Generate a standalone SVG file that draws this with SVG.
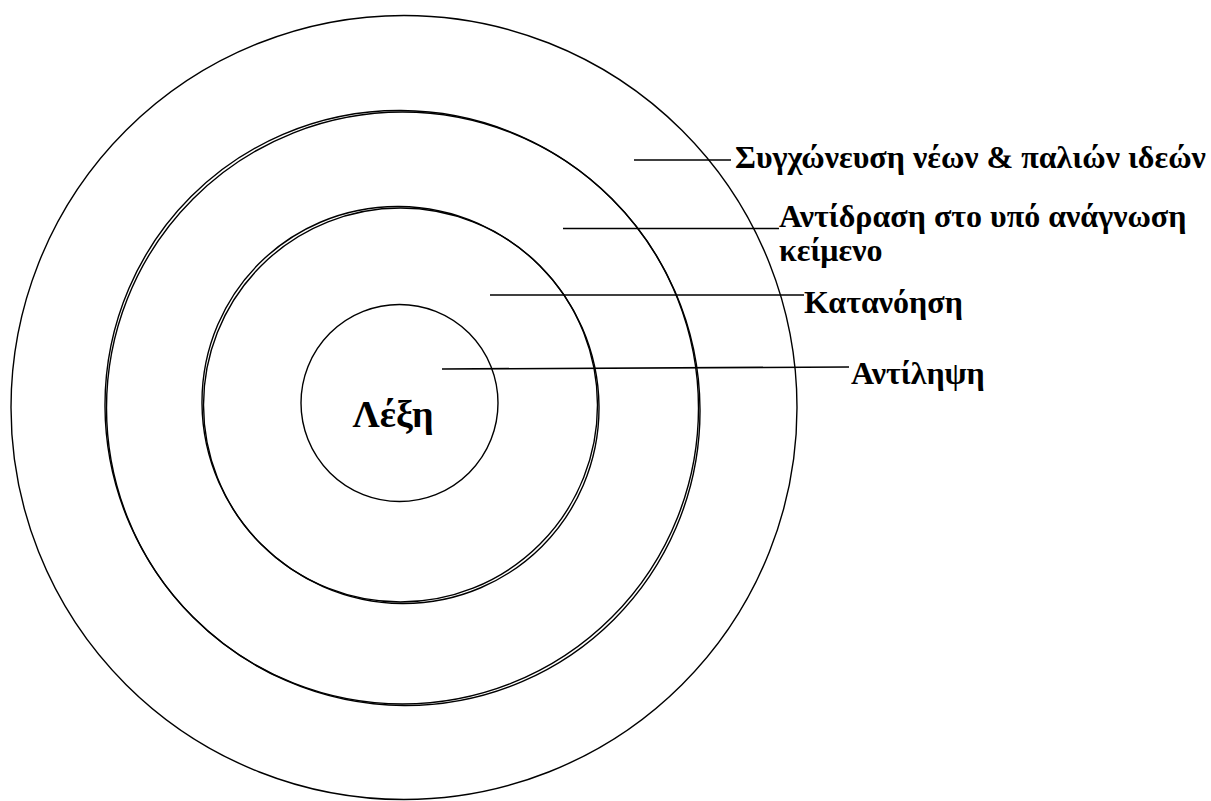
<svg xmlns="http://www.w3.org/2000/svg" width="1211" height="801" viewBox="0 0 1211 801">
<style>
.ring{fill:none;stroke:#000;stroke-width:1.4}
.lead{stroke:#000;stroke-width:1.6;fill:none}
.lbl{font-family:"Liberation Serif","Times New Roman",serif;font-weight:bold;font-size:32px;fill:#000}
.core{font-family:"Liberation Serif","Times New Roman",serif;font-weight:bold;font-size:38px;fill:#000}
</style>
<rect width="1211" height="801" fill="#fff"/>
<g id="ring-outer">
<ellipse class="ring" cx="404" cy="407.5" rx="393" ry="392"/>
</g>
<g id="ring-second">
<circle class="ring" cx="402.5" cy="408" r="296"/>
<ellipse class="ring" cx="0" cy="0" rx="299" ry="296" transform="translate(402.5 408) rotate(45)"/>
</g>
<g id="ring-third">
<circle class="ring" cx="400.5" cy="405" r="197"/>
<ellipse class="ring" cx="0" cy="0" rx="200" ry="197" transform="translate(400.5 405) rotate(45)"/>
</g>
<g id="ring-inner">
<circle class="ring" cx="399.5" cy="403" r="98.5"/>
<text class="core" x="393" y="427" text-anchor="middle">Λέξη</text>
</g>
<g id="connectors">
<line class="lead" x1="634" y1="160" x2="731" y2="160"/>
<line class="lead" x1="563" y1="228.5" x2="779" y2="228.5"/>
<line class="lead" x1="490" y1="295" x2="804" y2="295"/>
<line class="lead" x1="442" y1="369" x2="849" y2="367"/>
</g>
<g id="label-1"><text class="lbl" x="735" y="168">Συγχώνευση νέων &amp; παλιών ιδεών</text></g>
<g id="label-2"><text class="lbl" x="779" y="227">Αντίδραση στο υπό ανάγνωση</text><text class="lbl" x="779" y="261">κείμενο</text></g>
<g id="label-3"><text class="lbl" x="804" y="313">Κατανόηση</text></g>
<g id="label-4"><text class="lbl" x="851" y="384">Αντίληψη</text></g>
</svg>
